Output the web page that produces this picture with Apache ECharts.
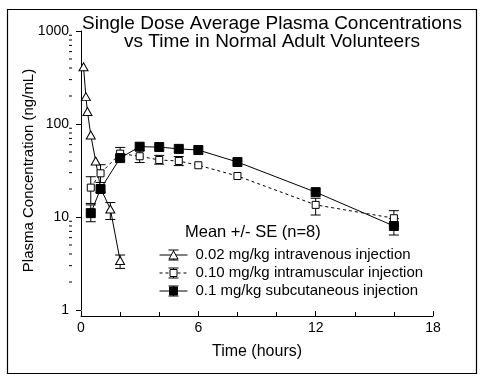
<!DOCTYPE html>
<html><head><meta charset="utf-8">
<script src="https://cdn.jsdelivr.net/npm/echarts@6/dist/echarts.min.js"></script>
<style>html,body{margin:0;padding:0;background:#fff}#c{width:480px;height:378px}</style>
</head><body><div id="c"></div>
<script>
// ---- data ----
const ivTime = [0.13, 0.25, 0.33, 0.5, 0.75, 1.0, 1.5, 2.0];
const ivConc = [413, 197, 136, 76, 40, 20.4, 12.2, 3.4];
const ivLow  = [null, null, null, null, null, null, 9.4, 2.8];
const ivHigh = [null, null, null, null, null, null, 14.3, 3.9];

const imTime = [0.5, 1, 2, 3, 4, 5, 6, 8, 12, 16];
const imConc = [20.7, 29.5, 48, 45, 41, 40, 36, 27.6, 13.5, 9.7];
const imLow  = [14.0, 23.5, 40, 38.5, 37, 35.7, null, null, 10.5, 8.2];
const imHigh = [27.1, 36.5, 56, 52, 46, 44.7, null, null, 15.9, 11.7];

const scTime = [0.5, 1, 2, 3, 4, 5, 6, 8, 12, 16];
const scConc = [11.0, 20, 43, 57, 56.5, 54, 52.5, 39, 18.5, 8.0];
const scLow  = [8.9, null, null, null, null, null, null, null, null, 6.4];
const scHigh = [13.5, null, null, null, null, null, null, null, null, 9.6];

const xTicks = [0, 6, 12, 18];
const yTicks = [1, 10, 100, 1000];
const yMinorTicks = [2,3,4,5,6,7,8,9,20,30,40,50,60,70,80,90,200,300,400,500,600,700,800,900];

const titleText = 'Single Dose Average Plasma Concentrations\nvs Time in Normal Adult Volunteers';
const xName = 'Time (hours)';
const yName = 'Plasma Concentration (ng/mL)';
const legendTitle = 'Mean +/- SE (n=8)';
const seriesNames = ['0.02 mg/kg intravenous injection', '0.10 mg/kg intramuscular injection', '0.1 mg/kg subcutaneous injection'];

const FONT = '"Liberation Sans", Arial, Helvetica, sans-serif';
const Y_OFFSET = 9;

function pairs(t, v){ return t.map((x,i)=>[x, v[i]]); }
function errData(t, lo, hi){ const r=[]; t.forEach((x,i)=>{ if(lo[i]!=null) r.push([x, lo[i], hi[i]]); }); return r; }

function errRender(params, api){
  const x = api.value(0), lo = api.value(1), hi = api.value(2);
  const p1 = api.coord([x, lo]), p2 = api.coord([x, hi]);
  const w = 5;
  const st = {stroke:'#000', lineWidth:1};
  return {type:'group', children:[
    {type:'line', shape:{x1:p1[0], y1:p1[1], x2:p2[0], y2:p2[1]}, style:st},
    {type:'line', shape:{x1:p1[0]-w, y1:p1[1], x2:p1[0]+w, y2:p1[1]}, style:st},
    {type:'line', shape:{x1:p2[0]-w, y1:p2[1], x2:p2[0]+w, y2:p2[1]}, style:st}
  ]};
}

const chart = echarts.init(document.getElementById('c'), null, {renderer:'canvas'});

const triPath = 'path://M5,0 L10,9 L0,9 Z';

function legendRow(top, name, dashed, marker){
  const st = {stroke:'#000', lineWidth:1};
  return {type:'group', left:157, top:top, children:[
    {type:'line', shape:{x1:0,y1:8,x2:28,y2:8}, style:dashed ? {stroke:'#000', lineWidth:1, lineDash:[3,3]} : st},
    {type:'line', shape:{x1:14,y1:3,x2:14,y2:13}, style:st},
    {type:'line', shape:{x1:9,y1:3,x2:19,y2:3}, style:st},
    {type:'line', shape:{x1:9,y1:13,x2:19,y2:13}, style:st},
    marker,
    {type:'text', x:36, y:0, style:{text:name, fontSize:15, fontFamily:FONT, fill:'#000'}}
  ]};
}

const option = {
  animation:false,
  backgroundColor:'#fff',
  textStyle:{fontFamily:FONT, color:'#000'},
  title:{text:titleText, left:267, top:10, textAlign:'center',
    textStyle:{fontFamily:FONT, fontSize:19, fontWeight:'normal', color:'#000', lineHeight:18}},
  grid:{left:81, right:47, top:31, bottom:68},
  xAxis:{type:'value', min:0, max:18, interval:6, offset:6,
    axisLine:{lineStyle:{color:'#000', width:1}},
    axisTick:{inside:true, length:5, lineStyle:{color:'#000'}},
    minorTick:{show:true, splitNumber:3, length:4, lineStyle:{color:'#000'}},
    splitLine:{show:false},
    axisLabel:{color:'#000', fontSize:14, fontFamily:FONT, margin:5,
      formatter:v=> xTicks.indexOf(v)>=0 ? String(v) : ''},
    name:xName, nameLocation:'middle', nameGap:28, nameMoveOverlap:false,
    nameTextStyle:{color:'#000', fontSize:16, fontFamily:FONT}},
  yAxis:{type:'log', logBase:10, min:1, max:1000, offset:Y_OFFSET,
    axisLine:{lineStyle:{color:'#000', width:1}},
    axisTick:{inside:false, length:5, lineStyle:{color:'#000'}},
    splitLine:{show:false},
    axisLabel:{color:'#000', fontSize:14, fontFamily:FONT, margin:3,
      formatter:v=> yTicks.indexOf(Math.round(v))>=0 ? String(Math.round(v)) : ''},
    name:yName, nameLocation:'middle', nameGap:36, nameRotate:90, nameMoveOverlap:false,
    nameTextStyle:{color:'#000', fontSize:15, fontFamily:FONT}},
  series:[
    {type:'custom', name:'yminor', silent:true, clip:false, z:1,
      data:yMinorTicks.map(v=>[0, v]),
      renderItem:(params, api)=>{
        const p = api.coord([0, api.value(1)]);
        const x0 = p[0]-Y_OFFSET;
        return {type:'line', shape:{x1:x0-3, y1:p[1], x2:x0, y2:p[1]}, style:{stroke:'#000', lineWidth:1}};
      }},
    {type:'custom', name:'ivErr', silent:true, z:2, data:errData(ivTime, ivLow, ivHigh), renderItem:errRender},
    {type:'custom', name:'imErr', silent:true, z:2, data:errData(imTime, imLow, imHigh), renderItem:errRender},
    {type:'custom', name:'scErr', silent:true, z:2, data:errData(scTime, scLow, scHigh), renderItem:errRender},
    {type:'line', name:seriesNames[0], data:pairs(ivTime, ivConc), z:3,
      lineStyle:{color:'#000', width:1}, symbol:triPath, symbolSize:[9,8], showAllSymbol:true,
      itemStyle:{color:'#fff', borderColor:'#000', borderWidth:1}},
    {type:'line', name:seriesNames[1], data:pairs(imTime, imConc), z:3,
      lineStyle:{color:'#000', width:1, type:[3,3]}, symbol:'rect', symbolSize:7, showAllSymbol:true,
      itemStyle:{color:'#fff', borderColor:'#000', borderWidth:1}},
    {type:'line', name:seriesNames[2], data:pairs(scTime, scConc), z:4,
      lineStyle:{color:'#000', width:1}, symbol:'rect', symbolSize:9, showAllSymbol:true,
      itemStyle:{color:'#000', borderColor:'#000', borderWidth:1}}
  ],
  graphic:[
    {type:'rect', left:5, top:7, shape:{width:469, height:364}, style:{fill:'none', stroke:'#000', lineWidth:1.2}, silent:true, z:0},
    {type:'text', left:185, top:224, style:{text:legendTitle, fontSize:16.5, fontFamily:FONT, fill:'#000'}},
    legendRow(247, seriesNames[0], false,
      {type:'polygon', shape:{points:[[14,4],[18.5,12],[9.5,12]]}, style:{fill:'#fff', stroke:'#000', lineWidth:1}}),
    legendRow(265, seriesNames[1], true,
      {type:'rect', shape:{x:10.5,y:4.5,width:7,height:7}, style:{fill:'#fff', stroke:'#000', lineWidth:1}}),
    legendRow(283, seriesNames[2], false,
      {type:'rect', shape:{x:10,y:4,width:8,height:8}, style:{fill:'#000', stroke:'#000', lineWidth:1}})
  ]
};
chart.setOption(option);
</script></body></html>
